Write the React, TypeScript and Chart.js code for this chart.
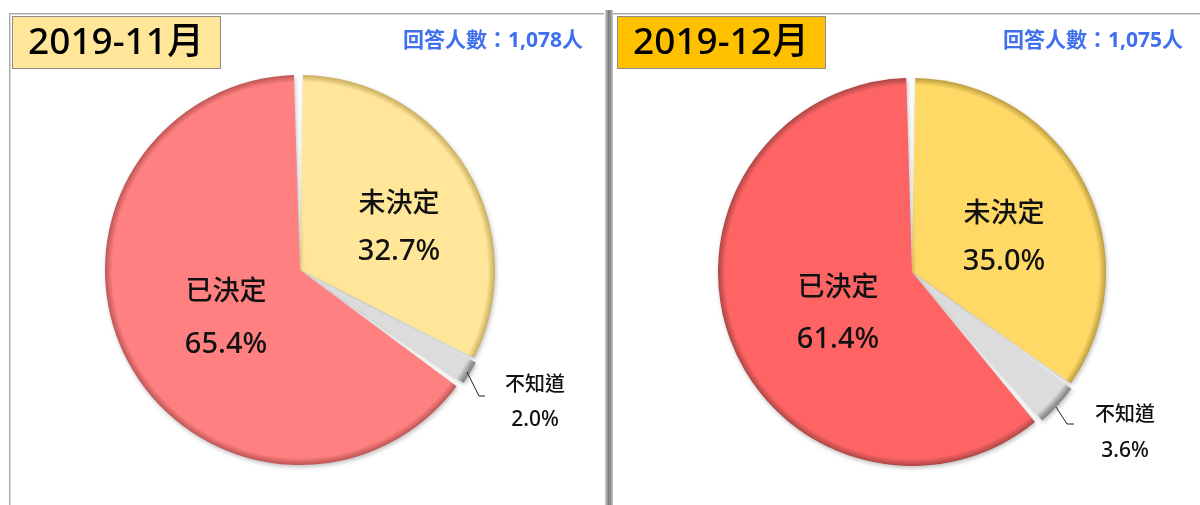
import React, { useEffect, useRef } from 'react';
import { Chart, registerables } from 'chart.js';

Chart.register(...registerables);

// ---- data ----
const categories = ['未決定', '不知道', '已決定'];
const novValues = [32.7, 2.0, 65.4];
const decValues = [35.0, 3.6, 61.4];
const panelTitles = ['2019-11月', '2019-12月'];
const respondentLabels = ['回答人數：1,078人', '回答人數：1,075人'];

// ---- layout / style ----
type Panel = {
  left: number;
  width: number;
  padding: { top: number; bottom: number; left: number; right: number };
  values: number[];
  colors: string[];
  rims: string[];
  title: string;
  titleFill: string;
  titleX: number;
  respondents: string;
  respX: number;
  labelPos: [number, number, number][];
  leader: [number, number][];
  divider: boolean;
};

const CJK = "'Noto Sans CJK TC', 'Noto Sans CJK JP', sans-serif";
const MIX = "'Noto Sans', 'Noto Sans CJK TC', sans-serif";

const panels: Panel[] = [
  {
    left: 0,
    width: 604,
    padding: { top: 71, bottom: 36, left: 101, right: 105 },
    values: novValues,
    colors: ['#FFE699', '#DCDCDC', '#FF8080'],
    rims: ['#CDB060', '#8C8C8C', '#C05858'],
    title: panelTitles[0],
    titleFill: '#FFE699',
    titleX: 12,
    respondents: respondentLabels[0],
    respX: 583,
    labelPos: [
      [99, -68, 50],
      [235, 113, 37],
      [-74, 20, 55],
    ],
    leader: [
      [167, 102],
      [179, 126],
      [185, 126],
    ],
    divider: false,
  },
  {
    left: 604,
    width: 596,
    padding: { top: 74, bottom: 35, left: 110, right: 90 },
    values: decValues,
    colors: ['#FFD966', '#DCDCDC', '#FF6464'],
    rims: ['#C0A040', '#8C8C8C', '#B04848'],
    title: panelTitles[1],
    titleFill: '#FFC000',
    titleX: 13,
    respondents: respondentLabels[1],
    respX: 579,
    labelPos: [
      [92, -60, 50],
      [213, 141, 38],
      [-74, 14, 54],
    ],
    leader: [
      [144, 135],
      [155, 152],
      [162, 152],
    ],
    divider: true,
  },
];

function makeGradient(chart: any, base: string, rim: string) {
  const meta = chart.getDatasetMeta(0);
  const ctrl: any = meta && meta.controller;
  const ca = chart.chartArea;
  if (!ca || !ctrl || !ctrl.outerRadius) return base;
  const cx = (ca.left + ca.right) / 2;
  const cy = (ca.top + ca.bottom) / 2;
  const r = ctrl.outerRadius;
  const g = chart.ctx.createRadialGradient(cx, cy, 0, cx, cy, r + 1);
  g.addColorStop(0, base);
  g.addColorStop(0.965, base);
  g.addColorStop(1, rim);
  return g;
}

function PiePanel({ p }: { p: Panel }) {
  const ref = useRef<HTMLCanvasElement | null>(null);
  useEffect(() => {
    const canvas = ref.current;
    if (!canvas) return;

    const shadowPlugin = {
      id: 'shadow',
      beforeDatasetsDraw(chart: any) {
        const ctx = chart.ctx;
        ctx.save();
        ctx.shadowColor = 'rgba(0,0,0,0.25)';
        ctx.shadowBlur = 4;
        ctx.shadowOffsetX = 1;
        ctx.shadowOffsetY = 2;
      },
      afterDatasetsDraw(chart: any) {
        chart.ctx.restore();
      },
    };

    const decor = {
      id: 'decor',
      beforeDraw(chart: any) {
        const ctx = chart.ctx;
        const W = chart.width;
        const H = chart.height;
        ctx.save();
        ctx.fillStyle = '#ffffff';
        ctx.fillRect(0, 0, W, H);
        if (!p.divider) {
          ctx.fillStyle = '#A6A6A6';
          ctx.fillRect(9, 13, W - 9, 1);
          ctx.fillRect(9, 13, 1, H - 13);
          ctx.fillStyle = '#D9D9D9';
          ctx.fillRect(10, 14, W - 10, 1);
          ctx.fillRect(10, 14, 1, H - 14);
        } else {
          const g = ctx.createLinearGradient(1, 0, 9, 0);
          g.addColorStop(0, '#D0D0D0');
          g.addColorStop(0.45, '#7F7F7F');
          g.addColorStop(0.65, '#8A8A8A');
          g.addColorStop(1, '#C8C8C8');
          ctx.fillStyle = g;
          ctx.fillRect(1, 10, 8, H - 10);
          ctx.fillStyle = '#A6A6A6';
          ctx.fillRect(9, 13, W - 9, 1);
          ctx.fillStyle = '#D9D9D9';
          ctx.fillRect(9, 14, W - 9, 1);
        }
        ctx.restore();
      },
      afterDraw(chart: any) {
        const ctx = chart.ctx;
        const meta = chart.getDatasetMeta(0);
        const cx = meta.data[0].x;
        const cy = meta.data[0].y;
        ctx.save();
        // title box
        ctx.fillStyle = p.titleFill;
        ctx.fillRect(p.titleX, 16, 209, 53);
        ctx.strokeStyle = '#8C8C8C';
        ctx.lineWidth = 1;
        ctx.strokeRect(p.titleX + 0.5, 16.5, 208, 52);
        ctx.fillStyle = '#000000';
        ctx.textAlign = 'center';
        ctx.textBaseline = 'middle';
        ctx.font = `500 37px ${MIX}`;
        ctx.fillText(p.title, p.titleX + 104, 43);

        // respondents
        ctx.textAlign = 'right';
        ctx.font = `bold 21px ${MIX}`;
        ctx.fillStyle = '#4070EC';
        ctx.fillText(p.respondents, p.respX, 41);

        // slice labels
        ctx.fillStyle = '#111111';
        ctx.textAlign = 'center';
        categories.forEach((name, i) => {
          const [dx, dy, gap] = p.labelPos[i];
          const small = i === 1;
          ctx.font = small ? `500 20px ${CJK}` : `500 27px ${CJK}`;
          ctx.fillText(name, cx + dx, cy + dy);
          ctx.font = small ? `500 21px ${MIX}` : `500 29px ${MIX}`;
          ctx.fillText(p.values[i].toFixed(1) + '%', cx + dx, cy + dy + gap);
        });

        // leader line
        ctx.strokeStyle = '#222222';
        ctx.lineWidth = 1;
        ctx.beginPath();
        p.leader.forEach(([lx, ly], k) => {
          if (k === 0) ctx.moveTo(cx + lx, cy + ly);
          else ctx.lineTo(cx + lx, cy + ly);
        });
        ctx.stroke();
        ctx.restore();
      },
    };

    const chart = new Chart(canvas, {
      type: 'pie',
      data: {
        labels: categories,
        datasets: [
          {
            data: p.values,
            backgroundColor: (c: any) => makeGradient(c.chart, p.colors[c.dataIndex], p.rims[c.dataIndex]),
            borderWidth: 0,
            spacing: 3,
            offset: [0, 8, 0],
          },
        ],
      },
      options: {
        responsive: false,
        animation: false,
        devicePixelRatio: 1,
        layout: { padding: p.padding },
        plugins: {
          legend: { display: false },
          tooltip: { enabled: false },
          title: { display: false },
        },
      },
      plugins: [decor, shadowPlugin],
    } as any);
    return () => chart.destroy();
  }, [p]);

  return (
    <canvas
      ref={ref}
      width={p.width}
      height={505}
      style={{ position: 'absolute', left: p.left, top: 0, width: p.width, height: 505 }}
    />
  );
}

export default function App() {
  return (
    <div
      style={{
        position: 'fixed',
        left: 0,
        top: 0,
        width: 1200,
        height: 505,
        background: '#ffffff',
        overflow: 'hidden',
      }}
    >
      {panels.map((p, i) => (
        <PiePanel key={i} p={p} />
      ))}
    </div>
  );
}
